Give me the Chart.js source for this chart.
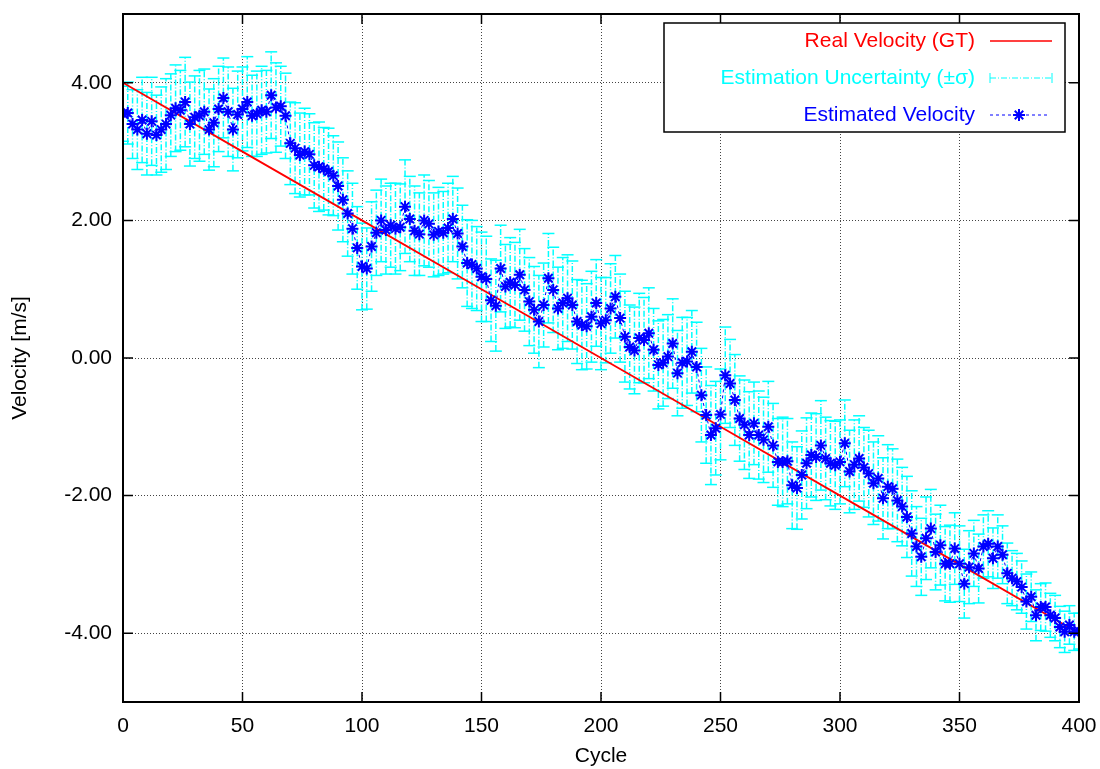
<!DOCTYPE html>
<html>
<head>
<meta charset="utf-8">
<title>Velocity estimation</title>
<script src="https://cdn.jsdelivr.net/npm/chart.js@4.4.1/dist/chart.umd.min.js"></script>
<style>
  html, body { margin: 0; padding: 0; background: #fff; }
  #wrap { width: 1100px; height: 769px; }
</style>
</head>
<body>
<div id="wrap"><canvas id="velChart" width="1100" height="769"></canvas></div>
<script>
// cycles where the filter gave an estimate (read every 2nd cycle off the plot)
const cycles = [
  0, 2, 4, 6, 8, 10, 12, 14, 16, 18, 20, 22, 24, 26, 28, 30, 32, 34, 36, 38,
  40, 42, 44, 46, 48, 50, 52, 54, 56, 58, 60, 62, 64, 66, 68, 70, 72, 74, 76, 78,
  80, 82, 84, 86, 88, 90, 92, 94, 96, 98, 100, 102, 104, 106, 108, 110, 112, 114, 116, 118,
  120, 122, 124, 126, 128, 130, 132, 134, 136, 138, 140, 142, 144, 146, 148, 150, 152, 154, 156, 158,
  160, 162, 164, 166, 168, 170, 172, 174, 176, 178, 180, 182, 184, 186, 188, 190, 192, 194, 196, 198,
  200, 202, 204, 206, 208, 210, 212, 214, 216, 218, 220, 222, 224, 226, 228, 230, 232, 234, 236, 238,
  240, 242, 244, 246, 248, 250, 252, 254, 256, 258, 260, 262, 264, 266, 268, 270, 272, 274, 276, 278,
  280, 282, 284, 286, 288, 290, 292, 294, 296, 298, 300, 302, 304, 306, 308, 310, 312, 314, 316, 318,
  320, 322, 324, 326, 328, 330, 332, 334, 336, 338, 340, 342, 344, 346, 348, 350, 352, 354, 356, 358,
  360, 362, 364, 366, 368, 370, 372, 374, 376, 378, 380, 382, 384, 386, 388, 390, 392, 394, 396, 398,
  400
];

// estimated velocity [m/s]
const estVelocity = [
  3.55, 3.56, 3.40, 3.32, 3.46, 3.26, 3.44, 3.24, 3.32, 3.40,
  3.53, 3.63, 3.60, 3.72, 3.40, 3.50, 3.52, 3.58, 3.32, 3.42,
  3.62, 3.78, 3.58, 3.32, 3.54, 3.62, 3.72, 3.52, 3.55, 3.60,
  3.58, 3.82, 3.64, 3.66, 3.52, 3.12, 3.05, 2.95, 3.00, 2.96,
  2.80, 2.78, 2.75, 2.71, 2.65, 2.50, 2.30, 2.10, 1.88, 1.60,
  1.33, 1.30, 1.62, 1.82, 2.00, 1.86, 1.93, 1.88, 1.90, 2.20,
  2.02, 1.85, 1.80, 2.00, 1.95, 1.79, 1.84, 1.82, 1.89, 2.02,
  1.81, 1.62, 1.38, 1.36, 1.30, 1.18, 1.15, 0.84, 0.76, 1.30,
  1.04, 1.10, 1.06, 1.21, 0.99, 0.82, 0.70, 0.53, 0.77, 1.16,
  0.99, 0.72, 0.80, 0.87, 0.77, 0.53, 0.48, 0.46, 0.60, 0.80,
  0.50, 0.55, 0.72, 0.89, 0.58, 0.31, 0.16, 0.11, 0.29, 0.26,
  0.36, 0.12, -0.10, -0.07, 0.02, 0.21, -0.22, -0.07, -0.05, 0.09,
  -0.13, -0.54, -0.83, -1.12, -1.02, -0.82, -0.25, -0.37, -0.61, -0.88,
  -0.97, -1.12, -0.95, -1.12, -1.19, -1.00, -1.27, -1.51, -1.51, -1.50,
  -1.85, -1.89, -1.70, -1.53, -1.41, -1.44, -1.27, -1.46, -1.53, -1.56,
  -1.51, -1.24, -1.65, -1.55, -1.46, -1.59, -1.68, -1.82, -1.75, -2.04,
  -1.87, -1.90, -2.07, -2.16, -2.31, -2.55, -2.74, -2.89, -2.62, -2.48,
  -2.82, -2.72, -2.99, -2.99, -2.77, -2.99, -3.28, -3.04, -2.84, -3.06,
  -2.74, -2.70, -2.91, -2.74, -2.86, -3.13, -3.20, -3.25, -3.33, -3.54,
  -3.47, -3.74, -3.62, -3.62, -3.74, -3.78, -3.91, -3.98, -3.88, -3.98,
  -3.97
];

// one sigma of the estimate [m/s]
const estSigma = [
  0.40, 0.45, 0.50, 0.58, 0.62, 0.60, 0.64, 0.58, 0.62, 0.66, 0.60, 0.63, 0.58, 0.65, 0.61, 0.60, 0.66, 0.62, 0.59, 0.64,
  0.62, 0.58, 0.65, 0.60, 0.63, 0.61, 0.66, 0.59, 0.62, 0.64, 0.60, 0.63, 0.65, 0.58, 0.62, 0.60, 0.66, 0.61, 0.63, 0.59,
  0.62, 0.65, 0.60, 0.63, 0.58, 0.64, 0.61, 0.62, 0.66, 0.60, 0.63, 0.59, 0.65, 0.62, 0.60, 0.64, 0.61, 0.66, 0.63, 0.68,
  0.62, 0.65, 0.60, 0.66, 0.63, 0.61, 0.64, 0.60, 0.65, 0.62, 0.66, 0.60, 0.63, 0.64, 0.61, 0.65, 0.62, 0.60, 0.66, 0.63,
  0.61, 0.65, 0.62, 0.66, 0.60, 0.64, 0.63, 0.67, 0.61, 0.65, 0.62, 0.60, 0.66, 0.63, 0.64, 0.61, 0.65, 0.62, 0.66, 0.63,
  0.67, 0.62, 0.65, 0.60, 0.64, 0.66, 0.61, 0.63, 0.65, 0.62, 0.66, 0.60, 0.64, 0.63, 0.61, 0.65, 0.62, 0.66, 0.64, 0.60,
  0.65, 0.68, 0.70, 0.72, 0.68, 0.66, 0.70, 0.64, 0.66, 0.62, 0.65, 0.63, 0.60, 0.64, 0.62, 0.66, 0.61, 0.63, 0.65, 0.62,
  0.63, 0.60, 0.64, 0.66, 0.61, 0.63, 0.65, 0.60, 0.62, 0.64, 0.61, 0.63, 0.60, 0.65, 0.62, 0.58, 0.63, 0.60, 0.62, 0.59,
  0.61, 0.58, 0.60, 0.57, 0.59, 0.62, 0.58, 0.56, 0.60, 0.57, 0.55, 0.58, 0.54, 0.56, 0.52, 0.55, 0.50, 0.53, 0.48, 0.50,
  0.46, 0.48, 0.44, 0.46, 0.42, 0.44, 0.40, 0.41, 0.38, 0.40, 0.36, 0.37, 0.34, 0.35, 0.32, 0.33, 0.30, 0.30, 0.28, 0.27,
  0.26
];

// ground truth velocity
const gtCycles = [0, 50, 100, 150, 200, 250, 300, 350, 400];
const gtVelocity = [4.0, 3.0, 2.0, 1.0, 0.0, -1.0, -2.0, -3.0, -4.0];

const yTicks = [-4, -2, 0, 2, 4];
const legendLabels = ["Real Velocity (GT)", "Estimation Uncertainty (\u00b1\u03c3)", "Estimated Velocity"];
const legendColors = ["#ff0000", "#00ffff", "#0000ff"];

const FONT = "'Liberation Sans', Arial, Helvetica, sans-serif";

// build the point lists the datasets need
let estPoints = [];
let errSegments = [];
let errCaps = [];
cycles.forEach((c, i) => {
  let lo = estVelocity[i] - estSigma[i];
  let hi = estVelocity[i] + estSigma[i];
  estPoints.push({ x: c, y: estVelocity[i] });
  errSegments.push({ x: c, y: lo }, { x: c, y: hi }, { x: c, y: null });
  errCaps.push({ x: c, y: lo }, { x: c, y: hi });
});
let gtPoints = gtCycles.map((c, i) => ({ x: c, y: gtVelocity[i] }));

// gnuplot style frame with inward ticks on all four sides
const framePlugin = {
  id: "frame",
  afterDatasetsDraw(chart) {
    const ctx = chart.ctx;
    const a = chart.chartArea;
    const xs = chart.scales.x;
    const ys = chart.scales.y;
    ctx.save();
    ctx.strokeStyle = "#000";
    ctx.lineWidth = 1.5;
    ctx.beginPath();
    xs.ticks.forEach((t) => {
      let px = xs.getPixelForValue(t.value);
      ctx.moveTo(px, a.bottom);
      ctx.lineTo(px, a.bottom - 10);
      ctx.moveTo(px, a.top);
      ctx.lineTo(px, a.top + 10);
    });
    ys.ticks.forEach((t) => {
      let py = ys.getPixelForValue(t.value);
      ctx.moveTo(a.left, py);
      ctx.lineTo(a.left + 10, py);
      ctx.moveTo(a.right, py);
      ctx.lineTo(a.right - 10, py);
    });
    ctx.stroke();
    ctx.lineWidth = 2;
    ctx.strokeRect(a.left, a.top, a.right - a.left, a.bottom - a.top);
    ctx.restore();
  }
};

function drawStar(ctx, x, y, r) {
  let d = r * Math.SQRT1_2;
  ctx.beginPath();
  ctx.moveTo(x - r, y); ctx.lineTo(x + r, y);
  ctx.moveTo(x, y - r); ctx.lineTo(x, y + r);
  ctx.moveTo(x - d, y - d); ctx.lineTo(x + d, y + d);
  ctx.moveTo(x - d, y + d); ctx.lineTo(x + d, y - d);
  ctx.stroke();
}

// key box in the upper right, text right aligned with sample on the right
const keyPlugin = {
  id: "keyBox",
  afterDraw(chart) {
    const ctx = chart.ctx;
    const a = chart.chartArea;
    let boxR = a.right - 14;
    let boxL = boxR - 401;
    let boxT = a.top + 9;
    let boxH = 109;
    ctx.save();
    ctx.fillStyle = "#fff";
    ctx.fillRect(boxL, boxT, boxR - boxL, boxH);
    ctx.strokeStyle = "#000";
    ctx.lineWidth = 1.5;
    ctx.strokeRect(boxL, boxT, boxR - boxL, boxH);

    ctx.font = "21px " + FONT;
    ctx.textAlign = "right";
    ctx.textBaseline = "middle";
    let textX = boxL + 311;
    let s0 = boxL + 326;
    let s1 = boxL + 388;
    legendLabels.forEach((lab, i) => {
      let y = boxT + 18 + i * 37;
      ctx.fillStyle = legendColors[i];
      ctx.fillText(lab, textX, y);
      ctx.strokeStyle = legendColors[i];
      if (i === 0) {
        ctx.lineWidth = 1.5;
        ctx.beginPath();
        ctx.moveTo(s0, y); ctx.lineTo(s1, y);
        ctx.stroke();
      } else if (i === 1) {
        ctx.lineWidth = 1;
        ctx.setLineDash([6, 2, 1, 2]);
        ctx.beginPath();
        ctx.moveTo(s0, y); ctx.lineTo(s1, y);
        ctx.stroke();
        ctx.setLineDash([]);
        ctx.beginPath();
        ctx.moveTo(s0, y - 5); ctx.lineTo(s0, y + 5);
        ctx.moveTo(s1, y - 5); ctx.lineTo(s1, y + 5);
        ctx.stroke();
      } else {
        ctx.lineWidth = 1;
        ctx.setLineDash([3, 3]);
        ctx.beginPath();
        ctx.moveTo(s0, y); ctx.lineTo(s1 - 4, y);
        ctx.stroke();
        ctx.setLineDash([]);
        ctx.lineWidth = 2;
        drawStar(ctx, (s0 + s1 - 4) / 2, y, 6);
      }
    });
    ctx.restore();
  }
};

Chart.defaults.font.family = FONT;
Chart.defaults.font.size = 21;
Chart.defaults.color = "#000";

let velChart = new Chart(document.getElementById("velChart"), {
  type: "scatter",
  data: {
    datasets: [
      {
        label: legendLabels[2],
        data: estPoints,
        showLine: true,
        borderColor: "#0000ff",
        borderWidth: 1,
        borderDash: [3, 3],
        pointStyle: "star",
        pointRadius: 6,
        pointBorderColor: "#0000ff",
        pointBorderWidth: 2,
        pointBackgroundColor: "#0000ff",
        order: 1
      },
      {
        label: legendLabels[0],
        data: gtPoints,
        showLine: true,
        borderColor: "#ff0000",
        borderWidth: 1.8,
        pointRadius: 0,
        order: 2
      },
      {
        label: legendLabels[1],
        data: errSegments,
        showLine: true,
        spanGaps: false,
        borderColor: "#00ffff",
        borderWidth: 1.5,
        borderDash: [6, 2, 1, 2],
        pointRadius: 0,
        order: 3
      },
      {
        label: "caps",
        data: errCaps,
        showLine: false,
        pointStyle: "line",
        pointRadius: 6,
        pointBorderColor: "#00ffff",
        pointBorderWidth: 1.5,
        order: 4
      }
    ]
  },
  options: {
    responsive: false,
    animation: false,
    events: [],
    layout: { padding: { top: 14, right: 21, left: 0, bottom: 0 } },
    plugins: {
      legend: { display: false },
      tooltip: { enabled: false }
    },
    scales: {
      x: {
        type: "linear",
        min: 0,
        max: 400,
        ticks: { stepSize: 50, padding: 12 },
        grid: { color: "#444", lineWidth: 1, drawTicks: false },
        border: { display: false, dash: [1, 2] },
        title: { display: true, text: "Cycle", padding: { top: 0, bottom: 0 } },
        afterFit: (scale) => {
          scale.height = 67;
          scale.paddingLeft = 0;
          scale.paddingRight = 0;
        }
      },
      y: {
        type: "linear",
        min: -5,
        max: 5,
        afterBuildTicks: (scale) => {
          scale.ticks = yTicks.map((v) => ({ value: v }));
        },
        ticks: {
          padding: 11,
          callback: (v) => Number(v).toFixed(2)
        },
        grid: { color: "#444", lineWidth: 1, drawTicks: false },
        border: { display: false, dash: [1, 2] },
        title: { display: true, text: "Velocity [m/s]", padding: { top: 8, bottom: 0 } },
        afterFit: (scale) => {
          scale.width = 123;
          scale.paddingTop = 0;
          scale.paddingBottom = 0;
        }
      }
    }
  },
  plugins: [framePlugin, keyPlugin]
});
</script>
</body>
</html>
